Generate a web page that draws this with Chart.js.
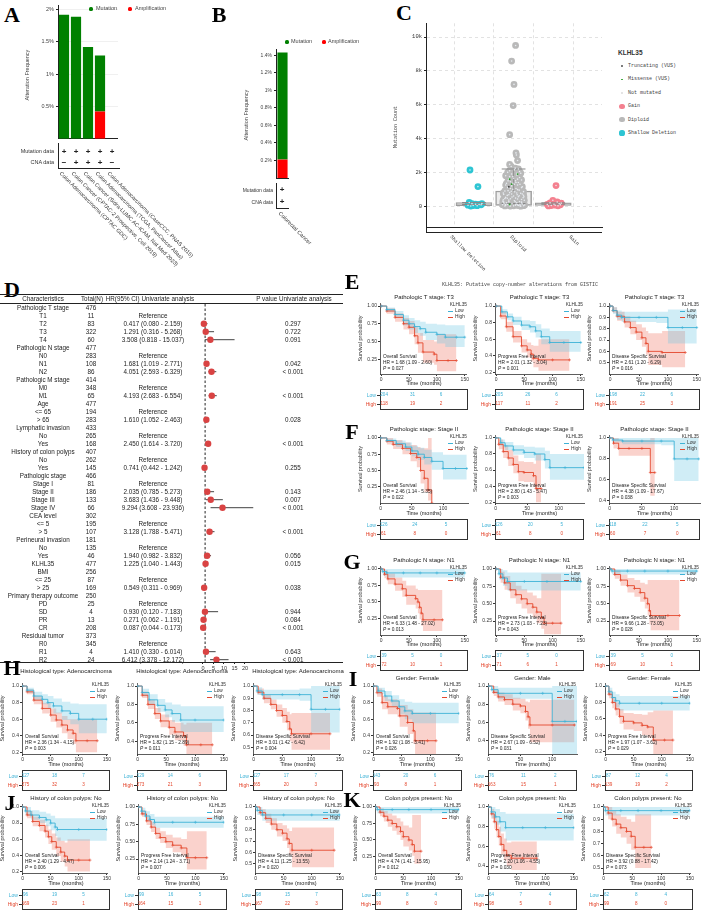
<!DOCTYPE html>
<html><head><meta charset="utf-8">
<script src="https://cdn.jsdelivr.net/npm/chart.js@4.4.1/dist/chart.umd.min.js"></script>
<style>
body{margin:0;background:#fff;}
#fig{position:relative;width:709px;height:911px;overflow:hidden;font-family:"Liberation Sans",Arial,sans-serif;color:#222;}
.t{position:absolute;white-space:nowrap;line-height:1;}
canvas{position:absolute;}
.hl{position:absolute;background:#222;}
</style></head><body><div id="fig"></div>
<script>
// ---------- A / B : alteration frequency ----------
const studiesA = ['Colon Adenocarcinoma (CPTAC GDC)', 'Colon Cancer (CPTAC-2 Prospective, Cell 2019)', 'Colon Cancer (Sidra-LUMC AC-ICAM, Nat Med 2023)', 'Colon Adenocarcinoma (TCGA, PanCancer Atlas)', 'Colon Adenocarcinoma (CaseCCC, PNAS 2015)'];
const mutA = [1.92, 1.89, 1.42, 0.87, 0];
const ampA = [0, 0, 0, 0.42, 0];
const mutRowA = ['+', '+', '+', '+', '+'];
const cnaRowA = ['\u2212', '+', '+', '+', '\u2212'];
const yTicksA = [0.5, 1, 1.5, 2];
const studiesB = ['Colorectal Cancer'];
const mutB = [1.22];
const ampB = [0.21];
const yTicksB = [0.2, 0.4, 0.6, 0.8, 1, 1.2, 1.4];

// ---------- C : mutation count by copy number ----------
const catC = ['Shallow Deletion', 'Diploid', 'Gain'];
const boxC = [[30, 110, 220], [50, 160, 900], [50, 120, 200]];   // q1, median, q3
const whiskC = [220, 2200, 200];
const shallowPts = [[-0.1,2140],[0.1,1160],[-0.12,220],[-0.05,150],[0.04,120],[0.13,100],[0.18,80],[-0.15,60],[-0.02,40],[0.08,30],[0.2,150],[-0.08,10]];
const diploidPts = [[0.05,9500],[-0.05,8580],[0.01,7200],[-0.01,5950],[-0.1,4230],[0.06,3150],[0.07,3030],[0.1,2700],[-0.1,2470],[-0.06,2350],[0.12,2200],[0.02,2150],[-0.15,2000],[0.18,1950],[-0.05,1900],[0.08,1850],[-0.2,1800],[0.15,1700],[0,1650],[-0.12,1600],[0.2,1550],[0.05,1500],[-0.08,1450],[0.12,1400],[-0.18,1350],[0.02,1300],[0.1,1250],[-0.05,1200],[0.22,1150],[-0.15,1100],[0.06,1050],[-0.02,1000],[0.14,950],[-0.22,900],[0.03,850],[-0.1,800],[0.18,760],[-0.05,720],[0.09,680],[-0.16,640],[0,600],[0.12,560],[-0.2,520],[0.05,480],[-0.08,440],[0.2,400],[-0.12,360],[0.02,320],[0.15,280],[-0.25,240],[0.08,200],[-0.04,160],[0.22,130],[-0.15,100],[0.1,80],[-0.2,50],[0.25,30],[0,20],[-0.08,10],[0.18,5],[0.05,60],[-0.28,90],[0.28,70],[0.12,40],[-0.1,25],
  [-0.25,700],[0.25,650],[-0.22,450],[0.24,500],[-0.27,300],[0.27,350],[-0.18,200],[0.2,250],[-0.24,150],[0.16,120],[-0.1,1750],[0.1,1600],[-0.14,1500],[0.06,1400],[-0.02,1350],[0.16,1300],[-0.2,1250],[0.2,1100],[-0.08,1050],[0.1,980],[-0.14,920],[0.25,860],[-0.06,880],[0.08,780],[-0.26,780],[0.22,720],[-0.12,680],[0.14,620],[-0.04,540],[0.26,560],[-0.16,470],[0.1,430],[-0.26,380],[0.04,260],[-0.12,270],[0.2,190],[-0.2,120],[0.06,110],[0.16,20],[-0.22,15],[0.08,1950],[-0.1,2100],[0.15,2050],[-0.02,1750],[0.04,2250]];
const gainPts = [[0.07,1220],[-0.01,350],[0.1,250],[-0.08,200],[0.15,150],[0.02,120],[-0.15,100],[0.18,80],[0.05,60],[-0.05,40],[0.12,20],[-0.12,15],[0.2,180]];
const missensePts = [[-0.1,1600],[0.1,1900],[-0.1,100],[-0.05,1300]];
const truncPts = [[-0.12,1150]];
const yTicksC = [0, 2000, 4000, 6000, 8000, 10000];

// ---------- D : univariate Cox forest ----------
const fpLabel = ['Pathologic T stage','T1','T2','T3','T4','Pathologic N stage','N0','N1','N2','Pathologic M stage','M0','M1','Age','<= 65','> 65','Lymphatic invasion','No','Yes','History of colon polyps','No','Yes','Pathologic stage','Stage I','Stage II','Stage III','Stage IV','CEA level','<= 5','> 5','Perineural invasion','No','Yes','KLHL35','BMI','<= 25','> 25','Primary therapy outcome','PD','SD','PR','CR','Residual tumor','R0','R1','R2'];
const fpN = [476,11,83,322,60,477,283,108,86,414,348,65,477,194,283,433,265,168,407,262,145,466,81,186,133,66,302,195,107,181,135,46,477,256,87,169,250,25,4,13,208,373,345,4,24];
const fpHR = [null,null,0.417,1.291,3.508,null,null,1.681,4.051,null,null,4.193,null,null,1.610,null,null,2.450,null,null,0.741,null,null,2.035,3.683,9.294,null,null,3.128,null,null,1.940,1.225,null,null,0.549,null,null,0.930,0.271,0.087,null,null,1.410,6.412];
const fpLo = [null,null,0.080,0.316,0.818,null,null,1.019,2.593,null,null,2.683,null,null,1.052,null,null,1.614,null,null,0.442,null,null,0.785,1.436,3.608,null,null,1.788,null,null,0.982,1.040,null,null,0.311,null,null,0.120,0.062,0.044,null,null,0.330,3.378];
const fpHi = [null,null,2.159,5.268,15.037,null,null,2.771,6.329,null,null,6.554,null,null,2.463,null,null,3.720,null,null,1.242,null,null,5.273,9.448,23.936,null,null,5.471,null,null,3.832,1.443,null,null,0.969,null,null,7.183,1.191,0.173,null,null,6.014,12.172];
const fpP = ['','','0.297','0.722','0.091','','','0.042','< 0.001','','','< 0.001','','','0.028','','','< 0.001','','','0.255','','','0.143','0.007','< 0.001','','','< 0.001','','','0.056','0.015','','','0.038','','','0.944','0.084','< 0.001','','','0.643','< 0.001'];
const fpRef = [1,6,10,13,16,19,22,27,30,34,37,42];
const fpTicks = [0, 5, 10, 15, 20];

// ---------- E-K : Kaplan-Meier curves, rows [time, surv, lower, upper] ----------
const E1_low = [[0,1,1,1],[10,.95,.92,.98],[25,.88,.83,.93],[40,.8,.73,.87],[50,.75,.67,.83],[60,.71,.62,.8],[70,.68,.58,.78],[80,.63,.52,.75],[100,.6,.47,.74],[115,.56,.42,.73],[135,.56,.42,.73],[150,.56,.42,.73]];
const E1_high = [[0,1,1,1],[10,.93,.89,.97],[25,.84,.78,.9],[40,.75,.67,.83],[50,.7,.6,.79],[60,.58,.46,.7],[66,.48,.34,.62],[75,.35,.2,.52],[95,.32,.17,.5],[100,.23,.08,.6],[120,.23,.08,.6],[135,.23,.08,.6]];
const E2_low = [[0,1,1,1],[10,.93,.9,.96],[20,.87,.83,.91],[30,.82,.77,.87],[45,.77,.71,.83],[60,.75,.68,.82],[70,.7,.62,.78],[80,.63,.54,.73],[95,.56,.45,.7],[120,.56,.45,.7],[150,.56,.45,.7]];
const E2_high = [[0,1,1,1],[8,.88,.84,.93],[18,.75,.69,.81],[30,.63,.56,.7],[45,.52,.44,.6],[55,.47,.38,.56],[62,.42,.33,.53],[66,.37,.26,.52],[75,.35,.22,.6],[100,.35,.22,.6],[130,.35,.22,.6]];
const E3_low = [[0,1,1,1],[5,.96,.93,.99],[12,.92,.88,.96],[20,.9,.86,.95],[50,.9,.86,.95],[80,.9,.85,.95],[100,.81,.67,.97],[125,.81,.67,.97],[150,.81,.67,.97]];
const E3_high = [[0,1,1,1],[5,.96,.94,.99],[12,.91,.87,.95],[25,.86,.81,.91],[35,.81,.75,.87],[45,.77,.7,.84],[55,.72,.64,.81],[62,.67,.57,.78],[66,.6,.48,.76],[90,.59,.46,.78],[130,.59,.46,.78]];
const F1_low = [[0,1,1,1],[10,.96,.93,.99],[25,.91,.86,.96],[40,.86,.8,.93],[50,.8,.72,.88],[60,.75,.66,.85],[70,.7,.59,.82],[82,.64,.51,.78],[100,.53,.36,.74],[120,.53,.36,.74],[138,.53,.36,.74]];
const F1_high = [[0,1,1,1],[10,.95,.9,1],[20,.9,.83,.97],[35,.84,.75,.93],[48,.76,.64,.89],[58,.7,.55,.86],[64,.5,.3,.84],[70,.38,.17,.84],[76,.2,.04,1],[82,0,0,0]];
const F2_low = [[0,1,1,1],[8,.94,.9,.98],[15,.9,.85,.95],[28,.85,.79,.91],[45,.82,.75,.89],[62,.8,.72,.88],[78,.73,.62,.84],[86,.63,.48,.8],[110,.63,.48,.8],[140,.63,.48,.8]];
const F2_high = [[0,1,1,1],[5,.92,.86,.98],[12,.83,.75,.91],[20,.75,.65,.85],[28,.67,.56,.78],[36,.58,.46,.71],[45,.57,.45,.7],[60,.53,.4,.68],[64,.37,.2,.8],[72,.37,.2,.8]];
const F3_low = [[0,1,1,1],[5,.98,.96,1],[20,.97,.94,1],[50,.97,.94,1],[80,.97,.93,1],[100,.8,.59,1],[120,.8,.59,1],[138,.8,.59,1]];
const F3_high = [[0,1,1,1],[6,.95,.9,1],[14,.9,.83,.98],[30,.9,.83,.98],[50,.9,.83,.98],[63,.67,.45,1],[70,.67,.45,1]];
const G1_low = [[0,1,1,1],[3,.96,.9,1],[10,.94,.87,1],[40,.94,.87,1],[70,.94,.87,1],[100,.94,.87,1],[150,.94,.87,1]];
const G1_high = [[0,1,1,1],[6,.92,.86,.98],[12,.85,.77,.93],[25,.77,.67,.87],[38,.7,.58,.82],[45,.6,.46,.75],[62,.55,.4,.7],[66,.5,.33,.68],[69,.42,.24,.68],[72,.33,.14,.68],[75,.23,.06,.68],[95,.23,.06,.68],[110,.23,.06,.68]];
const G2_low = [[0,1,1,1],[5,.93,.85,1],[12,.87,.76,.98],[20,.82,.69,.95],[50,.82,.69,.95],[90,.82,.69,.95],[150,.82,.69,.95]];
const G2_high = [[0,1,1,1],[8,.88,.8,.96],[15,.8,.7,.9],[25,.7,.58,.82],[35,.63,.5,.76],[45,.57,.43,.71],[55,.5,.36,.66],[65,.45,.3,.62],[72,.38,.22,.58],[80,.3,.14,.93],[85,.22,.06,.93],[100,.22,.06,.93],[115,.22,.06,.93]];
const G3_low = [[0,1,1,1],[3,.97,.92,1],[30,.97,.92,1],[60,.97,.92,1],[100,.97,.92,1],[150,.97,.92,1]];
const G3_high = [[0,1,1,1],[8,.92,.86,.98],[18,.84,.76,.92],[30,.76,.66,.87],[42,.72,.6,.84],[52,.66,.53,.8],[60,.58,.43,.78],[65,.5,.33,.84],[68,.4,.2,.84],[70,.33,.12,.84],[100,.33,.12,.84],[120,.33,.12,.84]];
const H1_low = [[0,1,1,1],[8,.95,.92,.98],[20,.88,.83,.93],[35,.84,.78,.9],[45,.8,.73,.88],[55,.76,.67,.85],[70,.7,.59,.81],[85,.67,.54,.79],[100,.6,.43,.78],[125,.6,.43,.78],[150,.6,.43,.78]];
const H1_high = [[0,1,1,1],[8,.93,.9,.96],[20,.83,.78,.88],[35,.73,.67,.8],[50,.65,.57,.73],[60,.59,.5,.68],[70,.53,.43,.64],[80,.47,.36,.6],[90,.43,.3,.6],[95,.34,.2,.6],[115,.34,.2,.6],[133,.34,.2,.6]];
const H2_low = [[0,1,1,1],[8,.93,.89,.97],[20,.85,.79,.91],[35,.79,.72,.86],[48,.74,.66,.82],[60,.7,.61,.8],[75,.63,.5,.78],[100,.63,.5,.78],[150,.63,.5,.78]];
const H2_high = [[0,1,1,1],[8,.9,.87,.94],[18,.8,.75,.85],[30,.7,.64,.76],[40,.62,.55,.69],[55,.55,.47,.63],[65,.5,.41,.6],[80,.46,.35,.58],[85,.36,.22,.6],[110,.36,.22,.6],[130,.36,.22,.6]];
const H3_low = [[0,1,1,1],[6,.96,.93,.99],[15,.93,.89,.97],[50,.93,.89,.97],[80,.93,.88,.98],[100,.81,.62,1],[125,.81,.62,1],[150,.81,.62,1]];
const H3_high = [[0,1,1,1],[8,.95,.93,.98],[18,.9,.86,.93],[30,.85,.81,.89],[40,.8,.75,.85],[50,.76,.7,.82],[58,.71,.64,.79],[63,.65,.55,.77],[66,.61,.48,.78],[100,.61,.48,.78],[133,.61,.48,.78]];
const I1_low = [[0,1,1,1],[8,.94,.9,.98],[20,.88,.82,.94],[32,.82,.75,.89],[45,.75,.66,.84],[55,.7,.6,.81],[68,.67,.55,.8],[100,.67,.55,.8],[150,.67,.55,.8]];
const I1_high = [[0,1,1,1],[6,.92,.87,.97],[15,.8,.72,.88],[25,.75,.66,.84],[42,.73,.63,.83],[46,.64,.51,.77],[60,.56,.42,.72],[70,.46,.3,.68],[73,.34,.17,.68],[95,.34,.17,.68],[110,.34,.17,.68]];
const I2_low = [[0,1,1,1],[5,.96,.92,1],[15,.92,.86,.98],[50,.92,.86,.98],[85,.92,.86,.98],[100,.61,.25,1],[120,.61,.25,1],[139,.61,.25,1]];
const I2_high = [[0,1,1,1],[8,.93,.89,.97],[15,.88,.83,.93],[25,.85,.79,.91],[38,.8,.73,.87],[50,.78,.7,.86],[58,.72,.62,.83],[62,.66,.53,.82],[65,.57,.38,.85],[100,.57,.38,.85],[135,.57,.38,.85]];
const I3_low = [[0,1,1,1],[6,.93,.88,.98],[12,.86,.79,.93],[18,.82,.74,.9],[25,.79,.7,.88],[60,.79,.7,.88],[100,.79,.7,.88],[150,.79,.7,.88]];
const I3_high = [[0,1,1,1],[6,.9,.85,.95],[12,.8,.73,.87],[18,.72,.64,.8],[25,.63,.54,.72],[32,.57,.47,.67],[50,.55,.45,.66],[65,.52,.4,.65],[75,.5,.37,.68],[85,.34,.16,.7],[105,.34,.16,.7],[120,.34,.16,.7]];
const J1_low = [[0,1,1,1],[5,.95,.9,1],[15,.9,.84,.96],[30,.87,.8,.94],[42,.84,.76,.92],[50,.8,.71,.89],[58,.75,.64,.86],[62,.72,.58,.86],[100,.72,.58,.86],[150,.72,.58,.86]];
const J1_high = [[0,1,1,1],[8,.9,.86,.95],[18,.82,.76,.88],[30,.77,.7,.84],[40,.7,.62,.78],[46,.63,.54,.72],[52,.57,.47,.67],[60,.5,.39,.62],[68,.44,.32,.58],[75,.39,.26,.56],[80,.34,.2,.6],[100,.34,.2,.6],[120,.34,.2,.6]];
const J2_low = [[0,1,1,1],[5,.94,.89,.99],[12,.87,.8,.94],[20,.82,.74,.9],[28,.78,.7,.86],[60,.78,.7,.86],[100,.78,.7,.86],[150,.78,.7,.86]];
const J2_high = [[0,1,1,1],[6,.9,.86,.95],[14,.8,.74,.86],[22,.71,.64,.78],[30,.62,.54,.7],[38,.56,.48,.65],[48,.5,.41,.6],[60,.45,.35,.56],[75,.41,.3,.54],[85,.27,.1,.65],[100,.27,.1,.65],[120,.27,.1,.65]];
const J3_low = [[0,1,1,1],[3,.97,.93,1],[12,.93,.88,.98],[50,.93,.88,.98],[100,.93,.88,.98],[150,.93,.88,.98]];
const J3_high = [[0,1,1,1],[8,.95,.92,.98],[18,.9,.86,.94],[28,.85,.8,.9],[38,.8,.74,.86],[48,.77,.7,.84],[56,.72,.64,.81],[60,.68,.58,.79],[65,.62,.47,.82],[100,.62,.47,.82],[140,.62,.47,.82]];
const K1_low = [[0,1,1,1],[3,.96,.9,1],[30,.96,.9,1],[60,.96,.9,1],[100,.96,.9,1],[150,.96,.9,1]];
const K1_high = [[0,1,1,1],[8,.92,.86,.98],[15,.86,.78,.94],[22,.8,.7,.9],[30,.75,.64,.87],[38,.7,.58,.83],[45,.63,.5,.78],[50,.55,.4,.72],[60,.5,.34,.69],[66,.43,.26,.88],[70,.33,.14,.88],[82,.33,.14,.88]];
const K2_low = [[0,1,1,1],[5,.95,.89,1],[12,.9,.82,.98],[20,.85,.75,.95],[30,.79,.66,.93],[60,.79,.66,.93],[100,.79,.66,.93],[150,.79,.66,.93]];
const K2_high = [[0,1,1,1],[5,.93,.88,.98],[10,.85,.78,.92],[14,.77,.69,.86],[18,.7,.61,.8],[22,.62,.52,.73],[27,.56,.46,.68],[32,.51,.4,.64],[40,.48,.36,.65],[60,.48,.36,.65],[85,.48,.36,.65]];
const K3_low = [[0,1,1,1],[3,.97,.93,1],[30,.97,.93,1],[60,.97,.93,1],[100,.97,.93,1],[150,.97,.93,1]];
const K3_high = [[0,1,1,1],[8,.95,.9,1],[15,.9,.84,.97],[22,.86,.78,.94],[30,.83,.75,.92],[40,.8,.7,.9],[48,.76,.65,.88],[55,.67,.5,.94],[70,.67,.5,.94],[83,.67,.5,.94]];

// numbers at risk (Low row, High row) at 0, 50, 100 months
const E1_risk = [[204,31,6],[118,19,2]];
const E2_risk = [[205,26,6],[117,11,2]];
const E3_risk = [[198,22,6],[191,25,3]];
const F1_risk = [[126,24,5],[61,8,0]];
const F2_risk = [[126,20,5],[61,8,0]];
const F3_risk = [[118,22,5],[60,7,0]];
const G1_risk = [[39,5,0],[72,10,1]];
const G2_risk = [[37,5,0],[71,6,1]];
const G3_risk = [[39,5,0],[69,10,1]];
const H1_risk = [[127,18,7],[275,32,3]];
const H2_risk = [[129,14,6],[273,21,3]];
const H3_risk = [[127,17,7],[265,20,3]];
const I1_risk = [[143,20,6],[93,8,1]];
const I2_risk = [[76,11,2],[163,15,1]];
const I3_risk = [[87,12,4],[139,19,2]];
const J1_risk = [[96,19,5],[169,23,1]];
const J2_risk = [[99,16,5],[164,15,1]];
const J3_risk = [[98,15,7],[167,22,3]];
const K1_risk = [[63,8,4],[99,8,0]];
const K2_risk = [[64,7,4],[98,5,0]];
const K3_risk = [[62,8,4],[99,8,0]];
const riskTimes = [0, 50, 100];

// title, endpoint, HR, P
const E1_txt = ['Pathologic T stage: T3','Overall Survival','HR = 1.68 (1.09 - 2.60)','0.027'];
const E2_txt = ['Pathologic T stage: T3','Progress Free Interval','HR = 2.01 (1.32 - 3.04)','0.001'];
const E3_txt = ['Pathologic T stage: T3','Disease Specific Survival','HR = 2.61 (1.20 - 6.29)','0.016'];
const F1_txt = ['Pathologic stage: Stage II','Overall Survival','HR = 2.46 (1.14 - 5.35)','0.022'];
const F2_txt = ['Pathologic stage: Stage II','Progress Free Interval','HR = 2.80 (1.43 - 5.47)','0.003'];
const F3_txt = ['Pathologic stage: Stage II','Disease Specific Survival','HR = 4.38 (1.09 - 17.67)','0.038'];
const G1_txt = ['Pathologic N stage: N1','Overall Survival','HR = 6.33 (1.48 - 27.02)','0.013'];
const G2_txt = ['Pathologic N stage: N1','Progress Free Interval','HR = 2.73 (1.03 - 7.23)','0.043'];
const G3_txt = ['Pathologic N stage: N1','Disease Specific Survival','HR = 9.66 (1.28 - 73.05)','0.028'];
const H1_txt = ['Histological type: Adenocarcinoma','Overall Survival','HR = 2.36 (1.34 - 4.15)','0.003'];
const H2_txt = ['Histological type: Adenocarcinoma','Progress Free Interval','HR = 1.82 (1.15 - 2.89)','0.011'];
const H3_txt = ['Histological type: Adenocarcinoma','Disease Specific Survival','HR = 3.01 (1.42 - 6.42)','0.004'];
const I1_txt = ['Gender: Female','Overall Survival','HR = 1.92 (1.08 - 3.41)','0.026'];
const I2_txt = ['Gender: Male','Disease Specific Survival','HR = 2.67 (1.09 - 6.52)','0.031'];
const I3_txt = ['Gender: Female','Progress Free Interval','HR = 1.97 (1.07 - 3.62)','0.029'];
const J1_txt = ['History of colon polyps: No','Overall Survival','HR = 2.40 (1.29 - 4.47)','0.006'];
const J2_txt = ['History of colon polyps: No','Progress Free Interval','HR = 2.14 (1.24 - 3.71)','0.007'];
const J3_txt = ['History of colon polyps: No','Disease Specific Survival','HR = 4.11 (1.25 - 13.55)','0.020'];
const K1_txt = ['Colon polyps present: No','Overall Survival','HR = 4.74 (1.41 - 15.95)','0.012'];
const K2_txt = ['Colon polyps present: No','Progress Free Interval','HR = 2.20 (1.06 - 4.55)','0.030'];
const K3_txt = ['Colon polyps present: No','Disease Specific Survival','HR = 3.92 (0.88 - 17.42)','0.073'];

const yT25 = [0.25, 0.5, 0.75, 1], yT20 = [0.2, 0.4, 0.6, 0.8, 1], yT40 = [0.4, 0.6, 0.8, 1], yT10 = [0.5, 0.6, 0.7, 0.8, 0.9, 1];
const xT150 = [0, 50, 100, 150], xT100 = [0, 50, 100];

// ---------- helpers ----------
const fig = document.getElementById('fig');
const LOW = '#3db2d6', HIGH = '#e4472d';
const LOW_BAND = 'rgba(100,195,225,0.3)', HIGH_BAND = 'rgba(238,105,85,0.3)';
Chart.defaults.font.family = '"Liberation Sans", Arial, sans-serif';
const common = {responsive: false, animation: false, devicePixelRatio: 1, events: [],
  plugins: {legend: {display: false}, tooltip: {enabled: false}}};

function txt(x, y, s, size, opt) {
  opt = opt || {};
  const d = document.createElement('div');
  d.className = 't';
  if (opt.html) d.innerHTML = s; else d.textContent = s;
  d.style.left = x + 'px';
  d.style.top = y + 'px';
  d.style.fontSize = size + 'px';
  const ax = opt.align === 'left' ? '0' : opt.align === 'right' ? '-100%' : '-50%';
  d.style.transform = `translate(${ax},-50%)` + (opt.rot ? ` rotate(${opt.rot}deg)` : '');
  if (opt.color) d.style.color = opt.color;
  if (opt.bold) d.style.fontWeight = 'bold';
  if (opt.font) d.style.fontFamily = opt.font;
  fig.appendChild(d);
  return d;
}
function rtxt(x, y, s, size, font) {
  const d = txt(x, y, s, size, {align: 'left', font: font, color: '#333'});
  d.style.transformOrigin = '0 0';
  d.style.transform = 'rotate(45deg)';
}
function hl(x, y, w, h, col) {
  const d = document.createElement('div');
  d.className = 'hl';
  d.style.left = x + 'px'; d.style.top = y + 'px';
  d.style.width = w + 'px'; d.style.height = h + 'px';
  if (col) d.style.background = col;
  fig.appendChild(d);
  return d;
}
function dot(x, y, r, col) {
  const d = hl(x - r, y - r, 2 * r, 2 * r, col);
  d.style.borderRadius = '50%';
}
function cv(x, y, w, h) {
  const c = document.createElement('canvas');
  c.width = w; c.height = h;
  c.style.left = x + 'px'; c.style.top = y + 'px';
  c.style.width = w + 'px'; c.style.height = h + 'px';
  fig.appendChild(c);
  return c.getContext('2d');
}
function label(s, x, y) {
  txt(x, y, s, 22, {bold: true, font: '"Liberation Serif", "Times New Roman", serif', color: '#000'});
}
const fixTicks = list => s => { s.ticks = list.map(v => ({value: v})); };

// ---------- A ----------
label('A', 12, 15);
new Chart(cv(26, 0, 92, 144), {
  type: 'bar',
  data: {labels: studiesA, datasets: [
    {data: ampA, backgroundColor: '#ff0000', stack: 's'},
    {data: mutA, backgroundColor: '#008000', stack: 's'}]},
  options: {...common,
    layout: {padding: {top: 5, bottom: 1, left: 0, right: 0}, autoPadding: false},
    datasets: {bar: {barPercentage: 0.85, categoryPercentage: 1}},
    scales: {
      x: {stacked: true, ticks: {display: false}, grid: {display: false}, border: {color: '#222'}, afterFit: s => { s.height = 0; }},
      y: {stacked: true, min: 0, max: 2.067, afterBuildTicks: fixTicks(yTicksA), afterFit: s => { s.width = 32; },
        ticks: {font: {size: 5.5}, color: '#444', padding: 2, callback: v => v + '%'},
        grid: {color: 'rgba(0,0,0,0.06)', tickColor: '#222', tickLength: 2}, border: {color: '#222'}}}}
});
txt(28, 75, 'Alteration Frequency', 5.5, {rot: -90, color: '#444'});
dot(91, 9, 1.6, '#008000'); txt(96, 9, 'Mutation', 5.5, {align: 'left', color: '#444'});
dot(130, 9, 1.6, '#ff0000'); txt(135, 9, 'Amplification', 5.5, {align: 'left', color: '#444'});
hl(58, 143, 1, 26); hl(58, 168, 62, 1);
txt(54, 152, 'Mutation data', 5.5, {align: 'right', color: '#333'});
txt(54, 163, 'CNA data', 5.5, {align: 'right', color: '#333'});
studiesA.forEach((s, i) => {
  const x = 64 + 12 * i;
  txt(x, 152, mutRowA[i], 8, {bold: true});
  txt(x, 163, cnaRowA[i], 8, {bold: true});
  rtxt(x - 2, 171, s, 5.5);
});

// ---------- B ----------
label('B', 219, 15);
new Chart(cv(248, 44, 41, 139), {
  type: 'bar',
  data: {labels: studiesB, datasets: [
    {data: ampB, backgroundColor: '#ff0000', stack: 's'},
    {data: mutB, backgroundColor: '#008000', stack: 's'}]},
  options: {...common,
    layout: {padding: {top: 4, bottom: 0, left: 0, right: 0}, autoPadding: false},
    datasets: {bar: {barPercentage: 0.78, categoryPercentage: 1}},
    scales: {
      x: {stacked: true, ticks: {display: false}, grid: {display: false}, border: {color: '#222'}, afterFit: s => { s.height = 0; }},
      y: {stacked: true, min: 0, max: 1.47, afterBuildTicks: fixTicks(yTicksB), afterFit: s => { s.width = 28; },
        ticks: {font: {size: 5}, color: '#444', padding: 2, callback: v => v + '%'},
        grid: {display: true, drawOnChartArea: false, tickColor: '#222', tickLength: 2}, border: {color: '#222'}}}}
});
txt(247, 115, 'Alteration Frequency', 5.5, {rot: -90, color: '#444'});
dot(287, 42, 1.6, '#008000'); txt(291, 42, 'Mutation', 5.5, {align: 'left', color: '#444'});
dot(324, 42, 1.6, '#ff0000'); txt(328, 42, 'Amplification', 5.5, {align: 'left', color: '#444'});
hl(276, 183, 1, 25); hl(276, 208, 13, 1);
txt(273, 190, 'Mutation data', 5, {align: 'right', color: '#333'});
txt(273, 202, 'CNA data', 5, {align: 'right', color: '#333'});
txt(282, 190, '+', 8, {bold: true}); txt(282, 202, '+', 8, {bold: true});
rtxt(281, 211, studiesB[0], 5.5);

// ---------- C ----------
label('C', 404, 13);
const mono = '"Liberation Mono", "DejaVu Sans Mono", monospace';
const ptsAt = (arr, c) => arr.map(p => ({x: c + p[0], y: p[1]}));
const seg = (x1, x2, y1, y2, col, w) => ({type: 'line', data: [{x: x1, y: y1}, {x: x2, y: y2}], borderColor: col, borderWidth: w, pointRadius: 0, order: 1});
const allPts = ptsAt(shallowPts, 0).concat(ptsAt(diploidPts, 1), ptsAt(gainPts, 2));
const cDatasets = [
  {type: 'scatter', data: ptsAt(truncPts, 1), pointRadius: 0.9, backgroundColor: '#444', borderWidth: 0, order: -2},
  {type: 'scatter', data: ptsAt(missensePts, 1), pointRadius: 0.9, backgroundColor: '#2ca02c', borderWidth: 0, order: -1},
  {type: 'scatter', data: allPts, pointRadius: 0.8, backgroundColor: 'rgba(235,240,245,0.9)', borderWidth: 0, order: 0},
  {type: 'scatter', data: ptsAt(shallowPts, 0), pointRadius: 3.4, backgroundColor: '#2ec5d3', borderWidth: 0, order: 2},
  {type: 'scatter', data: ptsAt(diploidPts, 1), pointRadius: 3.4, backgroundColor: '#b9b9b9', borderWidth: 0, order: 2},
  {type: 'scatter', data: ptsAt(gainPts, 2), pointRadius: 3.4, backgroundColor: '#f4808f', borderWidth: 0, order: 2},
  {type: 'bar', data: boxC.map((b, i) => ({x: i, y: [b[0], b[2]]})), barThickness: 36, backgroundColor: 'rgba(215,215,215,0.45)', borderColor: '#9a9a9a', borderWidth: 1, borderSkipped: false, order: 5}
];
boxC.forEach((b, i) => {
  cDatasets.push(seg(i - 0.3, i + 0.3, b[1], b[1], '#888', 1.2));
  cDatasets.push(seg(i, i, b[2], whiskC[i], '#888', 0.8));
  cDatasets.push(seg(i - 0.3, i + 0.3, whiskC[i], whiskC[i], '#888', 1));
});
new Chart(cv(400, 18, 204, 215), {
  type: 'scatter',
  data: {datasets: cDatasets},
  options: {...common,
    layout: {padding: {top: 5, right: 2, left: 0, bottom: 0}, autoPadding: false},
    scales: {
      x: {type: 'linear', min: -0.47, max: 2.49, afterBuildTicks: fixTicks([0, 1, 2]), afterFit: s => { s.height = 1; },
        ticks: {display: false}, grid: {color: '#e2e2e2', tickLength: 0}, border: {color: '#222', width: 1, dash: [3, 3]}},
      y: {type: 'linear', min: -1270, max: 10810, afterBuildTicks: fixTicks(yTicksC), afterFit: s => { s.width = 26; },
        ticks: {font: {size: 5.5, family: mono}, color: '#333', padding: 2, callback: v => v === 0 ? '0' : (v / 1000) + 'k'},
        grid: {color: '#e2e2e2', tickColor: '#222', tickLength: 2}, border: {color: '#222', width: 1, dash: [3, 3]}}}}
});
hl(426, 23, 1, 210); hl(426, 232, 176, 1);
txt(396, 127, 'Mutation Count', 5, {rot: -90, font: mono, color: '#444'});
catC.forEach((s, i) => rtxt(452 + 59.5 * i, 235, s, 5, mono));
txt(520, 285, 'KLHL35: Putative copy-number alterations from GISTIC', 5, {font: mono, color: '#444'});
txt(618, 53, 'KLHL35', 6.5, {align: 'left', bold: true, color: '#333'});
const legC = [['Truncating (VUS)', '#555', 0.9], ['Missense (VUS)', '#2ca02c', 0.9], ['Not mutated', '#ddd', 0.9], ['Gain', '#f4808f', 2.6], ['Diploid', '#b9b9b9', 2.6], ['Shallow Deletion', '#2ec5d3', 2.6]];
legC.forEach((l, i) => {
  const y = 66 + 13.4 * i;
  dot(622, y, l[2], l[1]);
  txt(628, y, l[0], 5, {align: 'left', font: mono, color: '#444'});
});

// ---------- D ----------
label('D', 12, 290);
hl(0, 294, 343, 1.2); hl(0, 303, 343, 0.8); hl(0, 662, 343, 1);
txt(43, 299, 'Characteristics', 6.3);
txt(92, 299, 'Total(N)', 6.3);
txt(150, 299, 'HR(95% CI) Univariate analysis', 6.3);
txt(294, 299, 'P value Univariate analysis', 6.3);
fpLabel.forEach((s, i) => {
  const y = 307.7 + 8 * i;
  txt(43, y, s, 6.3);
  txt(91, y, String(fpN[i]), 6.3);
  if (fpHR[i] !== null) txt(153, y, `${fpHR[i].toFixed(3)} (${fpLo[i].toFixed(3)} - ${fpHi[i].toFixed(3)})`, 6.3);
  else if (fpRef.includes(i)) txt(153, y, 'Reference', 6.3);
  if (fpP[i]) txt(293, y, fpP[i], 6.3);
});
const fpSets = [{type: 'scatter', data: fpHR.map((v, i) => v === null ? null : {x: v, y: i}).filter(p => p), pointRadius: 3.2, backgroundColor: '#d94343', borderWidth: 0, order: 0},
  {type: 'line', data: [{x: 1, y: -0.46}, {x: 1, y: 44.3}], borderColor: '#222', borderWidth: 1, borderDash: [2.5, 2], pointRadius: 0, order: 2}];
fpHR.forEach((v, i) => {
  if (v !== null) fpSets.push({type: 'line', data: [{x: fpLo[i], y: i}, {x: fpHi[i], y: i}], borderColor: '#111', borderWidth: 0.8, pointRadius: 0, order: 1});
});
new Chart(cv(190, 300, 72, 371), {
  type: 'scatter',
  data: {datasets: fpSets},
  options: {...common,
    layout: {padding: {top: 4, right: 0, left: 0, bottom: 0}, autoPadding: false},
    scales: {
      x: {type: 'linear', min: -6.19, max: 28.1, afterBuildTicks: fixTicks(fpTicks), afterFit: s => { s.height = 9; },
        ticks: {font: {size: 5.5}, color: '#333', padding: 1}, grid: {display: true, drawOnChartArea: false, tickLength: 2, tickColor: '#222'}, border: {display: false}},
      y: {display: false, reverse: true, min: -0.4625, max: 44.29}}}
});

// ---------- E-K ----------
const rows = {
  E: {top: 301, bottom: 374, title: 297, time: 384, table: 389},
  F: {top: 433, bottom: 503, title: 429, time: 514, table: 519},
  G: {top: 564, bottom: 635, title: 560, time: 645, table: 650},
  H: {top: 681, bottom: 754, title: 671, time: 765, table: 770},
  I: {top: 681, bottom: 754, title: 678, time: 765, table: 770},
  J: {top: 802, bottom: 873, title: 798, time: 884, table: 889},
  K: {top: 802, bottom: 873, title: 798, time: 884, table: 889}
};
const kmPanels = [
  {row: 'E', x0: 380, x1: 468, low: E1_low, high: E1_high, risk: E1_risk, t: E1_txt, ymin: 0.04, yt: yT25, dec: 2, xmin: -2, xmax: 153, xt: xT150},
  {row: 'E', x0: 495, x1: 584, low: E2_low, high: E2_high, risk: E2_risk, t: E2_txt, ymin: 0.18, yt: yT20, dec: 1, xmin: -2, xmax: 153, xt: xT150},
  {row: 'E', x0: 609, x1: 700, low: E3_low, high: E3_high, risk: E3_risk, t: E3_txt, ymin: 0.4, yt: yT10, dec: 1, xmin: -2, xmax: 153, xt: xT150},
  {row: 'F', x0: 380, x1: 468, low: F1_low, high: F1_high, risk: F1_risk, t: F1_txt, ymin: 0, yt: yT25, dec: 2, xmin: -1, xmax: 140, xt: xT100},
  {row: 'F', x0: 495, x1: 584, low: F2_low, high: F2_high, risk: F2_risk, t: F2_txt, ymin: 0.19, yt: yT20, dec: 1, xmin: -1, xmax: 140, xt: xT100},
  {row: 'F', x0: 609, x1: 700, low: F3_low, high: F3_high, risk: F3_risk, t: F3_txt, ymin: 0.38, yt: yT40, dec: 1, xmin: -1, xmax: 140, xt: xT100},
  {row: 'G', x0: 380, x1: 468, low: G1_low, high: G1_high, risk: G1_risk, t: G1_txt, ymin: 0, yt: yT25, dec: 2, xmin: -2, xmax: 153, xt: xT150},
  {row: 'G', x0: 495, x1: 584, low: G2_low, high: G2_high, risk: G2_risk, t: G2_txt, ymin: 0.05, yt: yT25, dec: 2, xmin: -2, xmax: 153, xt: xT150},
  {row: 'G', x0: 609, x1: 700, low: G3_low, high: G3_high, risk: G3_risk, t: G3_txt, ymin: 0.05, yt: yT25, dec: 2, xmin: -2, xmax: 153, xt: xT150},
  {row: 'H', x0: 22, x1: 110, low: H1_low, high: H1_high, risk: H1_risk, t: H1_txt, ymin: 0.18, yt: yT20, dec: 1, xmin: -1, xmax: 151, xt: xT150},
  {row: 'H', x0: 137, x1: 227, low: H2_low, high: H2_high, risk: H2_risk, t: H2_txt, ymin: 0.26, yt: yT40, dec: 1, xmin: -1, xmax: 151, xt: xT150},
  {row: 'H', x0: 253, x1: 343, low: H3_low, high: H3_high, risk: H3_risk, t: H3_txt, ymin: 0.445, yt: yT10, dec: 1, xmin: -1, xmax: 151, xt: xT150},
  {row: 'I', x0: 373, x1: 462, low: I1_low, high: I1_high, risk: I1_risk, t: I1_txt, ymin: 0.18, yt: yT20, dec: 1, xmin: -1, xmax: 151, xt: xT150},
  {row: 'I', x0: 488, x1: 577, low: I2_low, high: I2_high, risk: I2_risk, t: I2_txt, ymin: 0.25, yt: yT40, dec: 1, xmin: -1, xmax: 139, xt: xT100},
  {row: 'I', x0: 605, x1: 693, low: I3_low, high: I3_high, risk: I3_risk, t: I3_txt, ymin: 0.17, yt: yT20, dec: 1, xmin: -1, xmax: 151, xt: xT150},
  {row: 'J', x0: 22, x1: 110, low: J1_low, high: J1_high, risk: J1_risk, t: J1_txt, ymin: 0.18, yt: yT20, dec: 1, xmin: -1, xmax: 151, xt: xT150},
  {row: 'J', x0: 138, x1: 227, low: J2_low, high: J2_high, risk: J2_risk, t: J2_txt, ymin: 0.05, yt: yT25, dec: 2, xmin: -1, xmax: 151, xt: xT150},
  {row: 'J', x0: 255, x1: 343, low: J3_low, high: J3_high, risk: J3_risk, t: J3_txt, ymin: 0.42, yt: yT10, dec: 1, xmin: -1, xmax: 151, xt: xT150},
  {row: 'K', x0: 375, x1: 462, low: K1_low, high: K1_high, risk: K1_risk, t: K1_txt, ymin: 0, yt: yT25, dec: 2, xmin: -1, xmax: 151, xt: xT150},
  {row: 'K', x0: 488, x1: 577, low: K2_low, high: K2_high, risk: K2_risk, t: K2_txt, ymin: 0.33, yt: yT40, dec: 1, xmin: -1, xmax: 151, xt: xT150},
  {row: 'K', x0: 603, x1: 693, low: K3_low, high: K3_high, risk: K3_risk, t: K3_txt, ymin: 0.46, yt: yT10, dec: 1, xmin: -1, xmax: 151, xt: xT150}
];

function km(k) {
  const r = rows[k.row], yw = 23, xh = 9;
  const left = k.x0 - yw, top = r.top - 2;
  const W = k.x1 + 2 - left, H = r.bottom + xh - top;
  const ymax = 1 + (1 - k.ymin) * 0.045;
  const xy = (a, j) => a.map(d => ({x: d[0], y: d[j]}));
  const band = (a, j, col, fill) => ({data: xy(a, j), stepped: true, borderWidth: 0, pointRadius: 0, backgroundColor: col, fill: fill, order: 2});
  const curve = (a, col) => ({data: xy(a, 1), stepped: true, borderColor: col, borderWidth: 0.9, pointStyle: 'cross', pointRadius: 1.5,
    pointBorderColor: col, pointBorderWidth: 0.6, fill: false, order: 1});
  const axisGrid = {display: true, drawOnChartArea: false, tickLength: 2, tickColor: '#333'};
  new Chart(cv(left, top, W, H), {
    type: 'line',
    data: {datasets: [band(k.low, 3, LOW_BAND, '+1'), band(k.low, 2, LOW_BAND, false), band(k.high, 3, HIGH_BAND, '+1'), band(k.high, 2, HIGH_BAND, false),
      curve(k.low, LOW), curve(k.high, HIGH)]},
    options: {...common,
      layout: {padding: {top: 2, right: 2, left: 0, bottom: 0}, autoPadding: false},
      scales: {
        x: {type: 'linear', min: k.xmin, max: k.xmax, afterBuildTicks: fixTicks(k.xt), afterFit: s => { s.height = xh; },
          ticks: {font: {size: 5}, color: '#333', padding: 1, maxRotation: 0}, grid: axisGrid, border: {color: '#333', width: 0.8}},
        y: {type: 'linear', min: k.ymin, max: ymax, afterBuildTicks: fixTicks(k.yt), afterFit: s => { s.width = yw; },
          ticks: {font: {size: 5}, color: '#333', padding: 1, callback: v => v.toFixed(k.dec)},
          title: {display: true, text: 'Survival probability', font: {size: 5.5}, color: '#333', padding: {top: 0, bottom: 1}},
          grid: axisGrid, border: {color: '#333', width: 0.8}}}}
  });
  const cx = (k.x0 + k.x1) / 2;
  txt(cx, r.title, k.t[0], 6, {color: '#222'});
  txt(k.x1 - 1, r.top + 4, 'KLHL35', 4.8, {align: 'right', color: '#333'});
  hl(k.x1 - 20, r.top + 10, 5, 1, LOW); txt(k.x1 - 13, r.top + 10, 'Low', 4.8, {align: 'left', color: '#333'});
  hl(k.x1 - 20, r.top + 16, 5, 1, HIGH); txt(k.x1 - 13, r.top + 16, 'High', 4.8, {align: 'left', color: '#333'});
  txt(k.x0 + 3, r.bottom - 17, k.t[1], 4.8, {align: 'left', color: '#222'});
  txt(k.x0 + 3, r.bottom - 11, k.t[2], 4.8, {align: 'left', color: '#222'});
  txt(k.x0 + 3, r.bottom - 5, '<i>P</i> = ' + k.t[3], 4.8, {align: 'left', color: '#222', html: true});
  txt(cx, r.time, 'Time (months)', 5.5, {color: '#222'});
  // risk table
  const tb = hl(k.x0, r.table, k.x1 - k.x0, 21, 'transparent');
  tb.style.border = '0.8px solid #333';
  tb.style.boxSizing = 'border-box';
  const px = t => k.x0 + (t - k.xmin) / (k.xmax - k.xmin) * (k.x1 - k.x0);
  [['Low', LOW, 0], ['High', HIGH, 1]].forEach(g => {
    const y = r.table + 6 + 9 * g[2];
    txt(k.x0 - 4, y, g[0], 5, {align: 'right', color: g[1]});
    hl(k.x0 - 3, y, 3, 0.7, '#333');
    riskTimes.forEach((t, j) => txt(px(t) + 3, y, String(k.risk[g[2]][j]), 4.6, {color: g[1]}));
  });
}
kmPanels.forEach(km);

label('E', 352, 282);
label('F', 352, 432);
label('G', 352, 562);
label('H', 12, 668);
label('I', 353, 679);
label('J', 10, 803);
label('K', 352, 800);
</script></body></html>
